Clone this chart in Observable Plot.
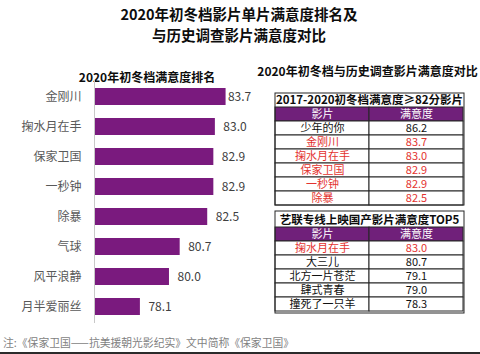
<!DOCTYPE html>
<html>
<head>
<meta charset="utf-8">
<script src="https://cdn.jsdelivr.net/npm/d3@7"></script>
<script src="https://cdn.jsdelivr.net/npm/@observablehq/plot@0.6"></script>
<style>
  html, body { margin: 0; padding: 0; background: #fff; }
  #root { position: relative; width: 480px; height: 354px; overflow: hidden; background: #fff;
          font-family: "Noto Sans CJK SC", "Noto Sans", sans-serif; }
  .abs { position: absolute; }
  .title { left: 0; width: 478px; top: 3px; text-align: center; font-size: 14.5px; font-weight: bold; line-height: 21px; color: #0d0d0d; }
  .sub { font-size: 12px; font-weight: bold; line-height: 14px; text-align: center; color: #0d0d0d; white-space: nowrap; }
  .note { left: 3px; top: 335px; font-size: 10.8px; line-height: 15px; color: #7f7f7f; white-space: nowrap; }
  .edge { left: 0; top: 352px; width: 480px; height: 2px; background: #2b2b2b; }
</style>
</head>
<body>
<div id="root">
  <div class="abs title">2020年初冬档影片单片满意度排名及<br>与历史调查影片满意度对比</div>
  <div class="abs sub" style="left:47px;width:200px;top:70px;">2020年初冬档满意度排名</div>
  <div class="abs sub" style="left:257px;width:221px;top:64px;">2020年初冬档与历史调查影片满意度对比</div>
  <div class="abs" id="bars" style="left:0;top:80px;"></div>
  <div class="abs" id="t1" style="left:273.5px;top:92px;"></div>
  <div class="abs" id="t2" style="left:273.5px;top:210px;"></div>
  <div class="abs note">注:《保家卫国——抗美援朝光影纪实》文中简称《保家卫国》</div>
  <div class="abs edge"></div>
</div>
<script>
// ---- data ----
const rankFilms = ["金刚川", "掬水月在手", "保家卫国", "一秒钟", "除暴", "气球", "风平浪静", "月半爱丽丝"];
const rankScores = [83.7, 83.0, 82.9, 82.9, 82.5, 80.7, 80.0, 78.1];

const tableColumns = ["影片", "满意度"];

const t1Title = "2017-2020初冬档满意度≥82分影片";
const t1Films = ["少年的你", "金刚川", "掬水月在手", "保家卫国", "一秒钟", "除暴"];
const t1Scores = [86.2, 83.7, 83.0, 82.9, 82.9, 82.5];

const t2Title = "艺联专线上映国产影片满意度TOP5";
const t2Films = ["掬水月在手", "大三儿", "北方一片苍茫", "肆式青春", "撞死了一只羊"];
const t2Scores = [83.0, 80.7, 79.1, 79.0, 78.3];

// ---- styling ----
const FONT = '"Noto Sans CJK SC", "Noto Sans", sans-serif';
const PURPLE = "#7a1a7e";
const HEADER = "#70207a";
const RED = "#e3332f";
const BORDER = "#262626";

// ---- bar chart ----
const rankData = rankFilms.map((name, i) => ({name, value: rankScores[i]}));
const xMin = 75.1, xMax = 85.1, labelCap = 83.3;

const bars = Plot.plot({
  width: 250,
  height: 243,
  marginTop: 0, marginBottom: 0, marginLeft: 94, marginRight: 3,
  style: {fontFamily: FONT, fontSize: "12px", color: "#595959", background: "transparent", overflow: "visible"},
  x: {domain: [xMin, xMax], axis: null},
  y: {domain: rankFilms, paddingInner: 0.44, paddingOuter: 0.22, tickSize: 0, tickPadding: 13, label: null},
  marks: [
    Plot.barX(rankData, {y: "name", x1: () => xMin, x2: "value", fill: PURPLE}),
    Plot.ruleX([xMin], {stroke: "#c8c8c8", strokeWidth: 1}),
    Plot.text(rankData, {
      y: "name", x: d => Math.min(d.value, labelCap), text: d => d.value.toFixed(1),
      textAnchor: "start", dx: 8, fill: "#404040", fontSize: 12
    })
  ]
});
document.getElementById("bars").appendChild(bars);

// ---- tables ----
function makeTable(title, films, scores, width, height) {
  const rows = films.map((f, i) => ({row: "r" + i, film: f, score: scores[i], hot: rankFilms.includes(f)}));
  const cells = rows.flatMap(r => [
    {row: r.row, col: tableColumns[0], text: r.film, hot: r.hot},
    {row: r.row, col: tableColumns[1], text: r.score.toFixed(1), hot: r.hot}
  ]);
  const header = tableColumns.map(c => ({row: "h", col: c, text: c}));
  return Plot.plot({
    width, height,
    marginTop: 0.5, marginBottom: 0.5, marginLeft: 0.5, marginRight: 0.5,
    style: {fontFamily: FONT, fontSize: "11px", background: "transparent", overflow: "visible"},
    x: {type: "band", domain: tableColumns, padding: 0, axis: null},
    y: {type: "band", domain: ["t", "h", ...rows.map(r => r.row)], padding: 0, axis: null},
    color: {type: "identity"},
    marks: [
      Plot.cell(header, {x: "col", y: "row", fill: HEADER, stroke: BORDER, strokeWidth: 1, inset: 0}),
      Plot.cell(cells, {x: "col", y: "row", fill: "white", stroke: BORDER, strokeWidth: 1, inset: 0}),
      Plot.text(header, {x: "col", y: "row", text: "text", fill: "white", fontSize: 11}),
      Plot.text(cells, {x: "col", y: "row", text: "text", fill: d => d.hot ? RED : "#111111", fontSize: 11}),
      Plot.text([title], {y: ["t"], text: d => d, fontWeight: "bold", fontSize: 11.5, fill: "#0d0d0d"}),
      Plot.frame({stroke: BORDER, strokeWidth: 1})
    ]
  });
}
document.getElementById("t1").appendChild(makeTable(t1Title, t1Films, t1Scores, 190, 113));
document.getElementById("t2").appendChild(makeTable(t2Title, t2Films, t2Scores, 190, 103));
</script>
</body>
</html>
